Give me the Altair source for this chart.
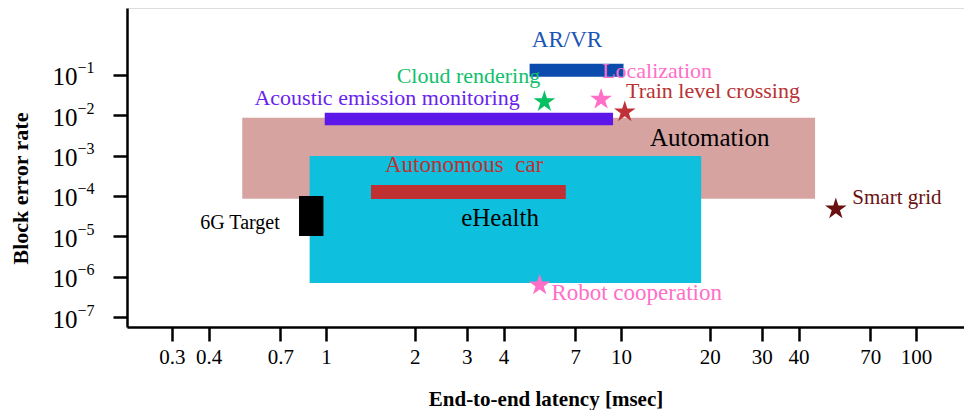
import altair as alt
import pandas as pd

# ---------------- data ----------------
rect_names = ["Automation", "eHealth", "Autonomous car",
              "Acoustic emission monitoring", "AR/VR", "6G Target"]
rect_lat_lo = [0.52, 0.88, 1.42, 0.99, 4.9, 0.81]
rect_lat_hi = [45.5, 18.7, 6.5, 9.4, 10.2, 0.98]
rect_bler_lo = [8.5e-5, 7.1e-7, 8.4e-5, 5.6e-3, 0.088, 1.03e-5]
rect_bler_hi = [8.5e-3, 9.7e-4, 1.87e-4, 1.14e-2, 0.185, 1.0e-4]

star_names = ["Cloud rendering", "Localization", "Train level crossing",
              "Smart grid", "Robot cooperation"]
star_lat = [5.5, 8.56, 10.3, 53.5, 5.3]
star_bler = [0.0213, 0.0244, 0.0119, 4.8e-5, 6.3e-7]

label_texts = ["AR/VR", "Cloud rendering", "Localization", "Train level crossing",
               "Acoustic emission monitoring", "Automation", "Autonomous\u00a0\u00a0car",
               "eHealth", "6G Target", "Robot cooperation", "Smart grid"]
label_lat = [6.56, 3.04, 13.25, 20.5, 1.61, 20.0, 2.94, 3.89, 0.511, 11.3, 86.2]
label_bler = [0.711, 0.09, 0.12, 0.039, 0.026, 2.7e-3, 5.8e-4,
              2.87e-5, 2.15e-5, 4.0e-7, 8.9e-5]

x_ticks = [0.3, 0.4, 0.7, 1, 2, 3, 4, 7, 10, 20, 30, 40, 70, 100]
y_ticks = [1e-1, 1e-2, 1e-3, 1e-4, 1e-5, 1e-6, 1e-7]

# ---------------- styling ----------------
rect_color = {"Automation": "#d6a3a0", "eHealth": "#0ec0de", "Autonomous car": "#c03033",
              "Acoustic emission monitoring": "#5c18e8", "AR/VR": "#0a4bad",
              "6G Target": "#000000"}
star_color = {"Cloud rendering": "#06c062", "Localization": "#ff6ec7",
              "Train level crossing": "#c03036", "Smart grid": "#6b1010",
              "Robot cooperation": "#ff6ec7"}
text_color = {"AR/VR": "#1a55b5", "Cloud rendering": "#10c06a", "Localization": "#ff6ec7",
              "Train level crossing": "#b83232", "Acoustic emission monitoring": "#6a22ee",
              "Automation": "#000000", "Autonomous\u00a0\u00a0car": "#c03030",
              "eHealth": "#000000", "6G Target": "#000000",
              "Robot cooperation": "#ff6ec7", "Smart grid": "#6b1010"}
text_size = {"Automation": 25, "eHealth": 25, "6G Target": 20, "Smart grid": 21,
             "Cloud rendering": 22, "Localization": 22, "Train level crossing": 22,
             "Acoustic emission monitoring": 22}

# five-pointed star (Vega has no built-in star symbol)
STAR = ("M0,-1L0.2245,-0.309L0.951,-0.309L0.363,0.118L0.588,0.809L0,0.382"
        "L-0.588,0.809L-0.363,0.118L-0.951,-0.309L-0.2245,-0.309Z")

FONT = "Liberation Serif"

rects = pd.DataFrame({"name": rect_names, "x1": rect_lat_lo, "x2": rect_lat_hi,
                      "y1": rect_bler_lo, "y2": rect_bler_hi})
stars = pd.DataFrame({"name": star_names, "x": star_lat, "y": star_bler})
labels = pd.DataFrame({"name": label_texts, "x": label_lat, "y": label_bler})

xscale = alt.Scale(type="log", domain=[0.2115, 145.5], nice=False)
yscale = alt.Scale(type="log", domain=[5.82e-8, 4.39], nice=False)

xaxis = alt.Axis(values=x_ticks, format="~g", labelFont=FONT, labelFontSize=21,
                 labelColor="black", labelPadding=5, labelOverlap=False, labelFlush=False,
                 tickSize=14, tickWidth=2.5, tickColor="black",
                 domainWidth=2.5, domainColor="black", grid=False,
                 title="End-to-end latency [msec]", titleFont=FONT, titleFontSize=21,
                 titleFontWeight="bold", titleColor="black",
                 titleBaseline="middle", titleY=72)

yaxis_base = alt.Axis(orient="left", values=y_ticks, labelExpr="'10'",
                      labelFont=FONT, labelFontSize=25, labelColor="black",
                      labelAlign="right", labelBaseline="middle", labelPadding=36,
                      labelOffset=2,
                      labelOverlap=False, labelFlush=False,
                      tickSize=14, tickWidth=2.5, tickColor="black",
                      domainWidth=2.5, domainColor="black", grid=False,
                      title="Block error rate", titleFont=FONT, titleFontSize=22,
                      titleFontWeight="bold", titleColor="black",
                      titleAlign="center", titleBaseline="middle", titleAngle=270,
                      titleX=-107, titleY=180)

yaxis_exp = alt.Axis(orient="left", values=y_ticks,
                     labelExpr="'\u2212' + round(-log(datum.value)/LN10)",
                     labelFont=FONT, labelFontSize=16, labelColor="black",
                     labelAlign="left", labelBaseline="middle", labelPadding=36,
                     labelOffset=-7,
                     labelOverlap=False, labelFlush=False,
                     tickSize=14, tickOpacity=0, domain=False, grid=False, title=None)

rect_layer = alt.Chart(rects).mark_rect(opacity=1).encode(
    x=alt.X("x1:Q", scale=xscale, axis=xaxis),
    x2="x2:Q",
    y=alt.Y("y1:Q", scale=yscale, axis=yaxis_base),
    y2="y2:Q",
    color=alt.Color("name:N", legend=None,
                    scale=alt.Scale(domain=list(rect_color.keys()),
                                    range=list(rect_color.values()))),
)

star_layer = alt.Chart(stars).mark_point(shape=STAR, filled=True, size=520,
                                         opacity=1, strokeWidth=0).encode(
    x=alt.X("x:Q", scale=xscale, axis=xaxis),
    y=alt.Y("y:Q", scale=yscale, axis=yaxis_exp),
    color=alt.Color("name:N", legend=None,
                    scale=alt.Scale(domain=list(star_color.keys()),
                                    range=list(star_color.values()))),
)

text_layers = []
for size in sorted(set([23] + list(text_size.values()))):
    names = [n for n in label_texts if text_size.get(n, 23) == size]
    text_layers.append(
        alt.Chart(labels).transform_filter(
            alt.FieldOneOfPredicate(field="name", oneOf=names)
        ).mark_text(font=FONT, fontSize=size, align="center", baseline="middle").encode(
            x=alt.X("x:Q", scale=xscale, axis=xaxis),
            y=alt.Y("y:Q", scale=yscale, axis=None),
            text="name:N",
            color=alt.Color("name:N", legend=None,
                            scale=alt.Scale(domain=list(text_color.keys()),
                                            range=list(text_color.values()))),
        )
    )

chart = alt.layer(rect_layer, star_layer, *text_layers).resolve_scale(
    color="independent"
).resolve_axis(y="independent").properties(
    width=837, height=319, autosize="none",
    padding={"left": 119, "top": 0, "right": 0, "bottom": 83},
).configure_view(stroke=None).configure(background="white")

chart.save("out.html", embed_options={"renderer": "svg", "actions": False})
